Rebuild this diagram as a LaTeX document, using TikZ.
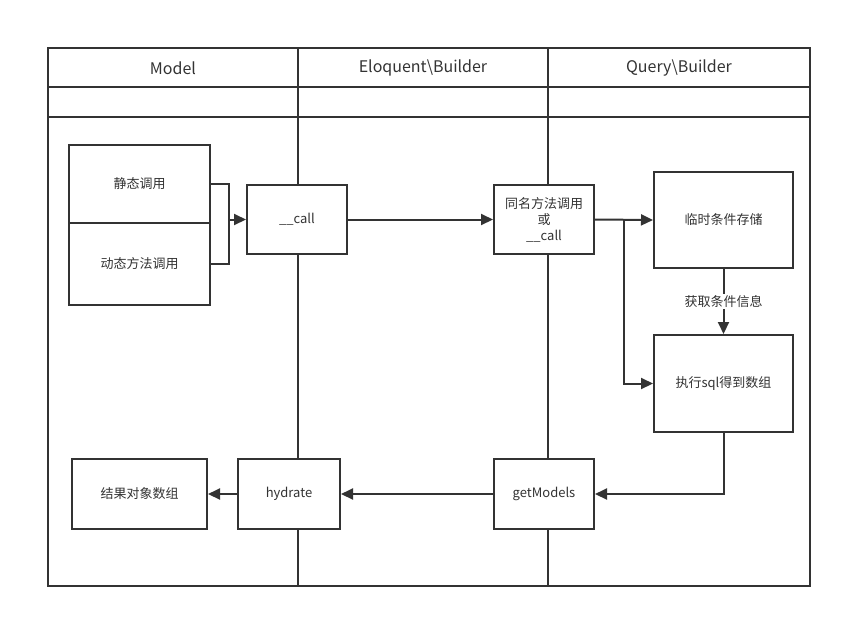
\documentclass[tikz,border=0pt]{standalone}
\usepackage{fontspec}
\setmainfont{Noto Sans CJK SC}
\usepackage{tikz}
\usetikzlibrary{arrows.meta, positioning, calc}

\definecolor{ink}{HTML}{333333}

\begin{document}
\begin{tikzpicture}[
    x=1pt, y=-1pt,
    line width=2pt, draw=ink,
    box/.style   = {rectangle, draw=ink, fill=white, inner sep=0pt,
                    font=\fontsize{13}{16}\selectfont, text=ink, align=center},
    head/.style  = {font=\fontsize{16}{18}\selectfont, text=ink},
    arr/.style   = {-{Triangle[length=12pt, width=11pt]}, draw=ink, line width=2pt}
]
  \useasboundingbox (0,0) rectangle (842,619);

  % swimlanes
  \draw[ink] (48,48) rectangle (810,586);
  \draw[ink] (48,87) -- (810,87);
  \draw[ink] (48,117) -- (810,117);
  \draw[ink] (298,48) -- (298,586);
  \draw[ink] (548,48) -- (548,586);

  \node[head] (hmodel) at (173,68) {Model};
  \node[head] (heloq)  at (423,68) {Eloquent\textbackslash Builder};
  \node[head] (hquery) at (679,68) {Query\textbackslash Builder};

  % boxes
  \node[box, minimum width=141pt, minimum height=78pt] (static)  at (139.5,184) {静态调用};
  \node[box, minimum width=141pt, minimum height=82pt] (dynamic) at (139.5,264) {动态方法调用};
  \node[box, minimum width=100pt, minimum height=69pt] (call)    at (297,219.5) {\_\_call};
  \node[box, minimum width=100pt, minimum height=69pt] (same)    at (544,219.5) {同名方法调用\\或\\\_\_call};
  \node[box, minimum width=139pt, minimum height=96pt] (store)   at (723.5,220) {临时条件存储};
  \node[box, minimum width=139pt, minimum height=97pt] (exec)    at (723.5,383.5) {执行sql得到数组};
  \node[box, minimum width=100pt, minimum height=70pt] (models)  at (544,494) {getModels};
  \node[box, minimum width=102pt, minimum height=70pt] (hydrate) at (289,494) {hydrate};
  \node[box, minimum width=135pt, minimum height=70pt] (result)  at (139.5,494) {结果对象数组};

  % connectors
  \coordinate (brk)  at (229,219.5);
  \coordinate (fork) at (624,219.5);
  \draw (static.east) -| (brk) |- (dynamic.east);
  \draw[arr] (brk) -- (call.west);
  \draw[arr] (call) -- (same);
  \draw[arr] (same.east) -- (store.west);
  \draw[arr] (fork) |- (exec.west);
  \draw[arr] (store) -- (exec)
        node[midway, fill=white, inner sep=1pt, font=\fontsize{13}{15}\selectfont, text=ink] {获取条件信息};
  \draw[arr] (exec.south) |- (models.east);
  \draw[arr] (models) -- (hydrate);
  \draw[arr] (hydrate) -- (result);
\end{tikzpicture}
\end{document}
